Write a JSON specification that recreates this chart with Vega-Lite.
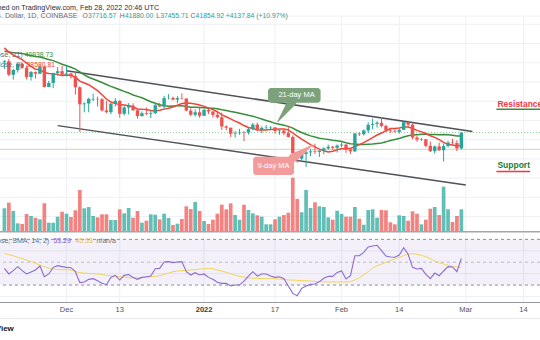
{
  "$schema": "https://vega.github.io/schema/vega-lite/v6.json",
  "width": 540,
  "height": 340,
  "autosize": {"type": "fit", "contains": "padding"},
  "padding": 0,
  "background": "#ffffff",
  "config": {"view": {"stroke": null}, "text": {"font": "Liberation Sans"}},
  "datasets": {
    "daily": [
      {"date":"2021-11-17","open":60100,"high":60700,"low":58400,"close":60360,"volume":23400,"ma9":63868,"ma21":62993,"rsi":44.6,"rsi_ma":57.8},
      {"date":"2021-11-18","open":60360,"high":60980,"low":56500,"close":56900,"volume":29000,"ma9":62751,"ma21":62817,"rsi":39.7,"rsi_ma":56.6},
      {"date":"2021-11-19","open":56900,"high":58370,"low":55600,"close":58100,"volume":20700,"ma9":61996,"ma21":62620,"rsi":42.6,"rsi_ma":55.7},
      {"date":"2021-11-20","open":58100,"high":59860,"low":57450,"close":59720,"volume":8400,"ma9":61426,"ma21":62516,"rsi":46.1,"rsi_ma":54.3},
      {"date":"2021-11-21","open":59720,"high":60050,"low":58500,"close":58700,"volume":7700,"ma9":60820,"ma21":62392,"rsi":42.6,"rsi_ma":53.1},
      {"date":"2021-11-22","open":58700,"high":59300,"low":55650,"close":56280,"volume":17700,"ma9":59918,"ma21":62167,"rsi":39.7,"rsi_ma":51.9},
      {"date":"2021-11-23","open":56280,"high":57870,"low":55360,"close":57560,"volume":15700,"ma9":59036,"ma21":61896,"rsi":41.4,"rsi_ma":50.5},
      {"date":"2021-11-24","open":57560,"high":57750,"low":55850,"close":57150,"volume":14000,"ma9":58319,"ma21":61620,"rsi":43.2,"rsi_ma":49.0},
      {"date":"2021-11-25","open":57150,"high":59450,"low":57050,"close":58950,"volume":12400,"ma9":58191,"ma21":61501,"rsi":46.7,"rsi_ma":47.5},
      {"date":"2021-11-26","open":58950,"high":59200,"low":53570,"close":53700,"volume":28400,"ma9":57451,"ma21":61153,"rsi":37.3,"rsi_ma":46.1},
      {"date":"2021-11-27","open":53700,"high":55300,"low":53650,"close":54750,"volume":9000,"ma9":57212,"ma21":60832,"rsi":39.7,"rsi_ma":44.9},
      {"date":"2021-11-28","open":54750,"high":57450,"low":53400,"close":57290,"volume":9000,"ma9":57122,"ma21":60546,"rsi":45.5,"rsi_ma":44.0},
      {"date":"2021-11-29","open":57290,"high":58880,"low":56700,"close":57800,"volume":15000,"ma9":56909,"ma21":60081,"rsi":47.0,"rsi_ma":43.7},
      {"date":"2021-11-30","open":57800,"high":59200,"low":56500,"close":56960,"volume":20000,"ma9":56716,"ma21":59606,"rsi":46.1,"rsi_ma":43.4},
      {"date":"2021-12-01","open":56960,"high":59100,"low":56450,"close":57200,"volume":18000,"ma9":56818,"ma21":59239,"rsi":45.5,"rsi_ma":43.4},
      {"date":"2021-12-02","open":57200,"high":57400,"low":55850,"close":56500,"volume":14700,"ma9":56700,"ma21":58841,"rsi":45.2,"rsi_ma":43.2},
      {"date":"2021-12-03","open":56500,"high":57600,"low":51700,"close":53620,"volume":21400,"ma9":56308,"ma21":58340,"rsi":41.7,"rsi_ma":42.0},
      {"date":"2021-12-04","open":53620,"high":53860,"low":42000,"close":49200,"volume":41700,"ma9":55224,"ma21":57616,"rsi":32.1,"rsi_ma":40.8},
      {"date":"2021-12-05","open":49200,"high":49700,"low":47100,"close":49400,"volume":23400,"ma9":54747,"ma21":56850,"rsi":32.7,"rsi_ma":40.5},
      {"date":"2021-12-06","open":49400,"high":50900,"low":47100,"close":50600,"volume":24700,"ma9":54286,"ma21":56230,"rsi":35.0,"rsi_ma":40.2},
      {"date":"2021-12-07","open":50450,"high":51950,"low":50000,"close":50600,"volume":15700,"ma9":53542,"ma21":55778,"rsi":35.6,"rsi_ma":39.9},
      {"date":"2021-12-08","open":50600,"high":51200,"low":48600,"close":50500,"volume":14400,"ma9":52731,"ma21":55309,"rsi":33.8,"rsi_ma":39.7},
      {"date":"2021-12-09","open":50500,"high":50800,"low":47300,"close":47600,"volume":17400,"ma9":51691,"ma21":54866,"rsi":31.5,"rsi_ma":39.1},
      {"date":"2021-12-10","open":47600,"high":50100,"low":46900,"close":47150,"volume":17400,"ma9":50574,"ma21":54344,"rsi":30.3,"rsi_ma":38.5},
      {"date":"2021-12-11","open":47150,"high":49500,"low":46650,"close":49350,"volume":11700,"ma9":49780,"ma21":53850,"rsi":36.7,"rsi_ma":38.2},
      {"date":"2021-12-12","open":49350,"high":50800,"low":48600,"close":50100,"volume":11700,"ma9":49389,"ma21":53441,"rsi":38.5,"rsi_ma":37.6},
      {"date":"2021-12-13","open":50100,"high":50200,"low":45700,"close":46720,"volume":22400,"ma9":49113,"ma21":52986,"rsi":34.4,"rsi_ma":37.3},
      {"date":"2021-12-14","open":46720,"high":48700,"low":46300,"close":48380,"volume":18400,"ma9":49000,"ma21":52549,"rsi":38.5,"rsi_ma":37.0},
      {"date":"2021-12-15","open":48380,"high":49500,"low":46550,"close":48870,"volume":23700,"ma9":48808,"ma21":52154,"rsi":39.1,"rsi_ma":36.4},
      {"date":"2021-12-16","open":48870,"high":49450,"low":47500,"close":47640,"volume":14000,"ma9":48479,"ma21":51616,"rsi":36.7,"rsi_ma":36.4},
      {"date":"2021-12-17","open":47640,"high":48000,"low":45500,"close":46150,"volume":20700,"ma9":47996,"ma21":51256,"rsi":35.0,"rsi_ma":36.4},
      {"date":"2021-12-18","open":46150,"high":47350,"low":45950,"close":46860,"volume":9000,"ma9":47913,"ma21":50880,"rsi":36.7,"rsi_ma":36.4},
      {"date":"2021-12-19","open":46860,"high":48350,"low":46400,"close":46700,"volume":11000,"ma9":47863,"ma21":50376,"rsi":37.3,"rsi_ma":36.7},
      {"date":"2021-12-20","open":46700,"high":47550,"low":45600,"close":46900,"volume":17400,"ma9":47591,"ma21":49857,"rsi":37.9,"rsi_ma":37.3},
      {"date":"2021-12-21","open":46900,"high":49350,"low":46650,"close":48950,"volume":17000,"ma9":47463,"ma21":49476,"rsi":44.3,"rsi_ma":37.6},
      {"date":"2021-12-22","open":48950,"high":49600,"low":48450,"close":48620,"volume":12400,"ma9":47674,"ma21":49067,"rsi":44.6,"rsi_ma":38.2},
      {"date":"2021-12-23","open":48620,"high":51400,"low":48050,"close":50800,"volume":18000,"ma9":47943,"ma21":48796,"rsi":50.2,"rsi_ma":39.4},
      {"date":"2021-12-24","open":50800,"high":51850,"low":50450,"close":50850,"volume":13700,"ma9":48163,"ma21":48664,"rsi":50.5,"rsi_ma":40.5},
      {"date":"2021-12-25","open":50850,"high":51200,"low":50200,"close":50420,"volume":6700,"ma9":48472,"ma21":48722,"rsi":49.6,"rsi_ma":41.7},
      {"date":"2021-12-26","open":50420,"high":51300,"low":49450,"close":50800,"volume":8000,"ma9":48989,"ma21":48789,"rsi":50.2,"rsi_ma":42.3},
      {"date":"2021-12-27","open":50800,"high":52050,"low":50450,"close":50700,"volume":12700,"ma9":49416,"ma21":48793,"rsi":50.5,"rsi_ma":42.6},
      {"date":"2021-12-28","open":50700,"high":50700,"low":47350,"close":47550,"volume":25400,"ma9":49510,"ma21":48648,"rsi":41.7,"rsi_ma":42.9},
      {"date":"2021-12-29","open":47550,"high":48150,"low":46100,"close":46480,"volume":22700,"ma9":49463,"ma21":48457,"rsi":38.8,"rsi_ma":43.2},
      {"date":"2021-12-30","open":46480,"high":47900,"low":46000,"close":47130,"volume":29700,"ma9":49261,"ma21":48434,"rsi":40.8,"rsi_ma":43.4},
      {"date":"2021-12-31","open":47130,"high":48550,"low":45700,"close":46200,"volume":20700,"ma9":48992,"ma21":48389,"rsi":38.8,"rsi_ma":44.0},
      {"date":"2022-01-01","open":46200,"high":47950,"low":46200,"close":47740,"volume":10700,"ma9":48652,"ma21":48312,"rsi":39.7,"rsi_ma":44.3},
      {"date":"2022-01-02","open":47740,"high":47990,"low":46650,"close":47300,"volume":7700,"ma9":48258,"ma21":48179,"rsi":36.7,"rsi_ma":44.6},
      {"date":"2022-01-03","open":47300,"high":47550,"low":45700,"close":46440,"volume":12000,"ma9":47816,"ma21":48166,"rsi":35.0,"rsi_ma":44.3},
      {"date":"2022-01-04","open":46440,"high":47500,"low":45500,"close":45830,"volume":18000,"ma9":47263,"ma21":48044,"rsi":32.4,"rsi_ma":43.2},
      {"date":"2022-01-05","open":45830,"high":47050,"low":42500,"close":43430,"volume":27000,"ma9":46456,"ma21":47785,"rsi":31.5,"rsi_ma":42.3},
      {"date":"2022-01-06","open":43430,"high":43750,"low":42450,"close":43100,"volume":22400,"ma9":45961,"ma21":47569,"rsi":31.5,"rsi_ma":41.1},
      {"date":"2022-01-07","open":43100,"high":43150,"low":40700,"close":41550,"volume":28400,"ma9":45413,"ma21":47350,"rsi":29.2,"rsi_ma":39.9},
      {"date":"2022-01-08","open":41550,"high":42300,"low":40500,"close":41680,"volume":16700,"ma9":44808,"ma21":47103,"rsi":30.0,"rsi_ma":38.8},
      {"date":"2022-01-09","open":41680,"high":42800,"low":41250,"close":41860,"volume":12000,"ma9":44326,"ma21":46873,"rsi":30.0,"rsi_ma":37.6},
      {"date":"2022-01-10","open":41900,"high":42250,"low":39650,"close":41820,"volume":27000,"ma9":43668,"ma21":46631,"rsi":33.5,"rsi_ma":37.0},
      {"date":"2022-01-11","open":41820,"high":43100,"low":41300,"close":42730,"volume":21700,"ma9":43160,"ma21":46335,"rsi":37.9,"rsi_ma":36.4},
      {"date":"2022-01-12","open":42730,"high":44350,"low":42450,"close":43920,"volume":18400,"ma9":42880,"ma21":46111,"rsi":41.7,"rsi_ma":35.9},
      {"date":"2022-01-13","open":43920,"high":44450,"low":42300,"close":42590,"volume":16400,"ma9":42520,"ma21":45720,"rsi":37.9,"rsi_ma":35.9},
      {"date":"2022-01-14","open":42590,"high":43450,"low":41750,"close":43080,"volume":15000,"ma9":42481,"ma21":45350,"rsi":39.7,"rsi_ma":35.6},
      {"date":"2022-01-15","open":43080,"high":43800,"low":42600,"close":43180,"volume":7400,"ma9":42490,"ma21":45005,"rsi":39.7,"rsi_ma":35.6},
      {"date":"2022-01-16","open":43100,"high":43500,"low":42600,"close":43200,"volume":7400,"ma9":42673,"ma21":44643,"rsi":37.9,"rsi_ma":35.9},
      {"date":"2022-01-17","open":43200,"high":43200,"low":41550,"close":42250,"volume":12400,"ma9":42737,"ma21":44241,"rsi":36.7,"rsi_ma":35.6},
      {"date":"2022-01-18","open":42250,"high":42700,"low":41250,"close":42380,"volume":15000,"ma9":42794,"ma21":43995,"rsi":37.3,"rsi_ma":35.3},
      {"date":"2022-01-19","open":42380,"high":42580,"low":41150,"close":41700,"volume":16700,"ma9":42781,"ma21":43767,"rsi":35.6,"rsi_ma":35.0},
      {"date":"2022-01-20","open":41700,"high":43500,"low":40550,"close":40700,"volume":19000,"ma9":42556,"ma21":43461,"rsi":29.2,"rsi_ma":34.4},
      {"date":"2022-01-21","open":40700,"high":41100,"low":35500,"close":36470,"volume":54000,"ma9":41728,"ma21":42998,"rsi":22.7,"rsi_ma":34.4},
      {"date":"2022-01-22","open":36470,"high":36850,"low":34020,"close":35070,"volume":32700,"ma9":40892,"ma21":42394,"rsi":20.7,"rsi_ma":34.1},
      {"date":"2022-01-23","open":35070,"high":36550,"low":34650,"close":36280,"volume":19400,"ma9":40137,"ma21":41870,"rsi":27.1,"rsi_ma":33.8},
      {"date":"2022-01-24","open":36280,"high":37550,"low":32920,"close":36700,"volume":41700,"ma9":39417,"ma21":41406,"rsi":29.2,"rsi_ma":33.8},
      {"date":"2022-01-25","open":36700,"high":37550,"low":35700,"close":36960,"volume":23700,"ma9":38723,"ma21":40983,"rsi":30.6,"rsi_ma":33.5},
      {"date":"2022-01-26","open":36960,"high":38950,"low":36250,"close":36820,"volume":29400,"ma9":38120,"ma21":40669,"rsi":30.9,"rsi_ma":33.2},
      {"date":"2022-01-27","open":36820,"high":37230,"low":35500,"close":37170,"volume":25400,"ma9":37541,"ma21":40386,"rsi":33.0,"rsi_ma":32.9},
      {"date":"2022-01-28","open":37170,"high":38050,"low":36200,"close":37720,"volume":24700,"ma9":37099,"ma21":40204,"rsi":35.9,"rsi_ma":32.9},
      {"date":"2022-01-29","open":37720,"high":38700,"low":37350,"close":38160,"volume":14400,"ma9":36817,"ma21":40036,"rsi":37.6,"rsi_ma":32.7},
      {"date":"2022-01-30","open":38160,"high":38370,"low":37350,"close":37900,"volume":12000,"ma9":36976,"ma21":39848,"rsi":37.6,"rsi_ma":32.7},
      {"date":"2022-01-31","open":37900,"high":38750,"low":36650,"close":38490,"volume":21000,"ma9":37356,"ma21":39689,"rsi":41.1,"rsi_ma":32.7},
      {"date":"2022-02-01","open":38490,"high":39250,"low":38000,"close":38720,"volume":17700,"ma9":37627,"ma21":39498,"rsi":42.3,"rsi_ma":32.7},
      {"date":"2022-02-02","open":38720,"high":38850,"low":36600,"close":37400,"volume":15000,"ma9":37704,"ma21":39188,"rsi":35.3,"rsi_ma":32.7},
      {"date":"2022-02-03","open":37400,"high":37500,"low":36250,"close":36950,"volume":15000,"ma9":37703,"ma21":38919,"rsi":38.2,"rsi_ma":32.9},
      {"date":"2022-02-04","open":36950,"high":41750,"low":36850,"close":41600,"volume":24700,"ma9":38234,"ma21":38849,"rsi":55.7,"rsi_ma":34.4},
      {"date":"2022-02-05","open":41600,"high":41950,"low":40950,"close":41400,"volume":13000,"ma9":38704,"ma21":38764,"rsi":55.7,"rsi_ma":36.4},
      {"date":"2022-02-06","open":41400,"high":42650,"low":41100,"close":42400,"volume":7000,"ma9":39224,"ma21":38726,"rsi":58.6,"rsi_ma":38.8},
      {"date":"2022-02-07","open":42400,"high":44500,"low":41650,"close":43850,"volume":21700,"ma9":39857,"ma21":38802,"rsi":63.3,"rsi_ma":41.7},
      {"date":"2022-02-08","open":43850,"high":45500,"low":42700,"close":44100,"volume":22400,"ma9":40546,"ma21":38884,"rsi":64.2,"rsi_ma":44.9},
      {"date":"2022-02-09","open":44100,"high":44800,"low":43150,"close":44400,"volume":14000,"ma9":41202,"ma21":39012,"rsi":64.8,"rsi_ma":46.9},
      {"date":"2022-02-10","open":44400,"high":45850,"low":43200,"close":43550,"volume":21700,"ma9":41739,"ma21":39148,"rsi":60.1,"rsi_ma":48.4},
      {"date":"2022-02-11","open":43550,"high":43900,"low":42000,"close":42400,"volume":21400,"ma9":42294,"ma21":39430,"rsi":55.4,"rsi_ma":49.9},
      {"date":"2022-02-12","open":42400,"high":43000,"low":41750,"close":42200,"volume":9400,"ma9":42878,"ma21":39770,"rsi":54.5,"rsi_ma":51.3},
      {"date":"2022-02-13","open":42200,"high":42750,"low":41850,"close":42050,"volume":7400,"ma9":42928,"ma21":40045,"rsi":54.3,"rsi_ma":52.8},
      {"date":"2022-02-14","open":42050,"high":42850,"low":41550,"close":42550,"volume":16400,"ma9":43056,"ma21":40323,"rsi":56.3,"rsi_ma":54.3},
      {"date":"2022-02-15","open":42550,"high":44750,"low":42450,"close":44550,"volume":15700,"ma9":43294,"ma21":40685,"rsi":62.7,"rsi_ma":55.7},
      {"date":"2022-02-16","open":44550,"high":44550,"low":43350,"close":43900,"volume":11000,"ma9":43300,"ma21":41022,"rsi":56.9,"rsi_ma":57.2},
      {"date":"2022-02-17","open":43900,"high":44200,"low":40100,"close":40550,"volume":20400,"ma9":42906,"ma21":41183,"rsi":45.5,"rsi_ma":57.5},
      {"date":"2022-02-18","open":40550,"high":40950,"low":39450,"close":40000,"volume":18000,"ma9":42417,"ma21":41291,"rsi":44.0,"rsi_ma":56.9},
      {"date":"2022-02-19","open":40000,"high":40450,"low":39650,"close":40100,"volume":7400,"ma9":42033,"ma21":41384,"rsi":44.6,"rsi_ma":56.0},
      {"date":"2022-02-20","open":40100,"high":40150,"low":38000,"close":38400,"volume":12000,"ma9":41589,"ma21":41408,"rsi":39.4,"rsi_ma":54.8},
      {"date":"2022-02-21","open":38400,"high":39500,"low":36800,"close":37000,"volume":23000,"ma9":41011,"ma21":41337,"rsi":35.6,"rsi_ma":53.1},
      {"date":"2022-02-22","open":37000,"high":38450,"low":36350,"close":38250,"volume":24700,"ma9":40589,"ma21":41314,"rsi":40.5,"rsi_ma":51.0},
      {"date":"2022-02-23","open":38250,"high":39250,"low":37050,"close":37250,"volume":16700,"ma9":40000,"ma21":41307,"rsi":38.2,"rsi_ma":49.6},
      {"date":"2022-02-24","open":37250,"high":39000,"low":34300,"close":38330,"volume":45000,"ma9":39309,"ma21":41373,"rsi":42.3,"rsi_ma":48.4},
      {"date":"2022-02-25","open":38330,"high":39700,"low":38000,"close":39230,"volume":22400,"ma9":38790,"ma21":41260,"rsi":46.1,"rsi_ma":47.3},
      {"date":"2022-02-26","open":39230,"high":40250,"low":38600,"close":39120,"volume":9700,"ma9":38631,"ma21":41151,"rsi":45.8,"rsi_ma":46.4},
      {"date":"2022-02-27","open":39120,"high":39850,"low":37000,"close":37716.57,"volume":15700,"ma9":38377,"ma21":40928,"rsi":41.7,"rsi_ma":45.8},
      {"date":"2022-02-28","open":37716.57,"high":41880,"low":37455.71,"close":41854.92,"volume":22400,"ma9":38580.81,"ma21":40938.73,"rsi":53.29,"rsi_ma":45.53}
    ],
    "ticks": [
      {"date":"2021-12-01","label":"Dec","year_start":false},
      {"date":"2021-12-13","label":"13","year_start":false},
      {"date":"2022-01-01","label":"2022","year_start":true},
      {"date":"2022-01-17","label":"17","year_start":false},
      {"date":"2022-02-01","label":"Feb","year_start":false},
      {"date":"2022-02-14","label":"14","year_start":false},
      {"date":"2022-03-01","label":"Mar","year_start":false},
      {"date":"2022-03-14","label":"14","year_start":false}
    ],
    "price_grid": [
      {"price":20000},{"price":25000},{"price":30000},{"price":35000},{"price":40000},{"price":45000},
      {"price":50000},{"price":55000},{"price":60000},{"price":65000},{"price":70000},{"price":72150}
    ],
    "rsi_grid": [{"rsi":60},{"rsi":40},{"rsi":20}],
    "rsi_levels": [{"rsi":70},{"rsi":50},{"rsi":30}],
    "rsi_band": [{"start":"2021-11-10","end":"2022-03-25","upper":70,"lower":30}],
    "channel": [
      {"line":"upper","date":"2021-12-01","price":57900},
      {"line":"upper","date":"2022-03-02T12:00Z","price":42100},
      {"line":"lower","date":"2021-11-29","price":43650},
      {"line":"lower","date":"2022-03-01","price":28240}
    ],
    "callouts": [
      {"series":"ma21","label":"21-day MA","start":"2022-01-15T10:05Z","end":"2022-01-27T06:29Z","mid":"2022-01-21T20:24Z","top":53430,"bottom":49610,"level":51534},
      {"series":"ma9","label":"9-day MA","start":"2022-01-12T01:41Z","end":"2022-01-21T06:58Z","mid":"2022-01-16T15:36Z","top":35570,"bottom":30810,"level":33203}
    ],
    "tails": [
      {"series":"ma21","end":"base","date":"2022-01-20T20:24Z","price":49900},
      {"series":"ma21","end":"tip","date":"2022-01-17T14:24Z","price":44670},
      {"series":"ma9","end":"base","date":"2022-01-21T01:41Z","price":35300},
      {"series":"ma9","end":"tip","date":"2022-01-25T12:00Z","price":38612}
    ],
    "zones": [
      {"kind":"resistance","label":"Resistance","date":"2022-03-08T03:07Z","price":49350,"start":"2022-03-07T21:36Z","end":"2022-03-20","line":47894},
      {"kind":"support","label":"Support","date":"2022-03-08T03:07Z","price":33411,"start":"2022-03-07T21:36Z","end":"2022-03-15T12:00Z","line":31721}
    ],
    "price_text_right": [
      {"role":"header","text":"BTCUSD, 1D published on TradingView.com, Feb 28, 2022 20:46 UTC","date":"2021-12-21T20:53Z","price":74233},
      {"role":"muted","text":"Bitcoin / U.S. Dollar, 1D, COINBASE","date":"2021-12-03T12:00Z","price":72153},
      {"role":"muted","text":"MA (close, 21)","date":"2021-11-21T02:53Z","price":62013},
      {"role":"muted","text":"MA (close, 9)","date":"2021-11-21T02:53Z","price":59412}
    ],
    "price_text_left": [
      {"role":"muted","text":"O","date":"2021-12-04T14:38Z","price":72153},
      {"role":"up","text":"37716.57","date":"2021-12-05T19:55Z","price":72153},
      {"role":"muted","text":"H","date":"2021-12-13T00:29Z","price":72153},
      {"role":"up","text":"41880.00","date":"2021-12-14T04:05Z","price":72153},
      {"role":"muted","text":"L","date":"2021-12-21T04:48Z","price":72153},
      {"role":"up","text":"37455.71","date":"2021-12-22T02:38Z","price":72153},
      {"role":"muted","text":"C","date":"2021-12-28T22:48Z","price":72153},
      {"role":"up","text":"41854.92","date":"2021-12-30T02:24Z","price":72153},
      {"role":"up","text":"+4137.84 (+10.97%)","date":"2022-01-05T21:50Z","price":72153},
      {"role":"ma21","text":"40938.73","date":"2021-11-21T13:26Z","price":62013},
      {"role":"ma9","text":"38580.81","date":"2021-11-22T00:00Z","price":59412}
    ],
    "rsi_text_left": [
      {"role":"rsi","text":"53.29","date":"2021-11-28T00:58Z","rsi":68.6},
      {"role":"rsi_ma","text":"45.53","date":"2021-12-03T00:00Z","rsi":68.6},
      {"role":"muted","text":"n/a","date":"2021-12-07T18:29Z","rsi":68.6},
      {"role":"muted","text":"n/a","date":"2021-12-09T22:05Z","rsi":68.6}
    ]
  },
  "resolve": {"scale": {"y": "independent", "color": "independent", "size": "independent", "opacity": "independent"}},
  "layer": [
    {
      "data": {"name": "ticks"},
      "mark": {"type": "rule", "color": "#edf0f5", "strokeWidth": 1, "clip": true},
      "encoding": {
        "x": {"field": "date", "type": "temporal", "scale": {"type": "utc", "nice": false, "domain": [{"year":2021,"month":11,"date":17,"hours":3,"minutes":11,"utc":true},{"year":2022,"month":3,"date":16,"hours":14,"minutes":24,"utc":true}]}, "axis": null},
        "y": {"datum": 14.7, "type": "quantitative", "scale": {"domain": [-18.1, 279.5], "nice": false, "zero": false}, "axis": null},
        "y2": {"datum": 265.5}
      }
    },
    {
      "data": {"name": "price_grid"},
      "mark": {"type": "rule", "color": "#edf0f5", "strokeWidth": 1, "clip": true},
      "encoding": {
        "y": {"field": "price", "type": "quantitative", "scale": {"domain": [-12090, 76313], "nice": false, "zero": false}, "axis": null}
      }
    },
    {
      "data": {"name": "rsi_grid"},
      "mark": {"type": "rule", "color": "#edf0f5", "strokeWidth": 1, "clip": true},
      "encoding": {
        "y": {"field": "rsi", "type": "quantitative", "scale": {"domain": [-18.1, 279.5], "nice": false, "zero": false}, "axis": null}
      }
    },
    {
      "data": {"name": "rsi_band"},
      "mark": {"type": "rect", "color": "#7e57c2", "opacity": 0.09, "clip": true},
      "encoding": {
        "x": {"field": "start", "type": "temporal", "scale": {"type": "utc", "nice": false, "domain": [{"year":2021,"month":11,"date":17,"hours":3,"minutes":11,"utc":true},{"year":2022,"month":3,"date":16,"hours":14,"minutes":24,"utc":true}]}, "axis": null},
        "x2": {"field": "end"},
        "y": {"field": "upper", "type": "quantitative", "scale": {"domain": [-18.1, 279.5], "nice": false, "zero": false}, "axis": null},
        "y2": {"field": "lower"}
      }
    },
    {
      "data": {"name": "rsi_levels"},
      "mark": {"type": "rule", "color": "#8a8d96", "strokeWidth": 1, "strokeDash": [3, 3], "clip": true},
      "encoding": {
        "y": {"field": "rsi", "type": "quantitative", "scale": {"domain": [-18.1, 279.5], "nice": false, "zero": false}, "axis": null},
        "opacity": {"condition": {"test": "datum.rsi == 50", "value": 0.55}, "value": 1}
      }
    },
    {
      "data": {"values": [{"rsi": 14.7}]},
      "mark": {"type": "rule", "color": "#9598a1", "strokeWidth": 1, "clip": true},
      "encoding": {
        "y": {"field": "rsi", "type": "quantitative", "scale": {"domain": [-18.1, 279.5], "nice": false, "zero": false}, "axis": null}
      }
    },
    {
      "data": {"name": "ticks"},
      "transform": [{"filter": "!datum.year_start"}],
      "mark": {"type": "text", "fontSize": 7.5, "color": "#50535e", "align": "center", "baseline": "middle", "clip": true},
      "encoding": {
        "x": {"field": "date", "type": "temporal", "scale": {"type": "utc", "nice": false, "domain": [{"year":2021,"month":11,"date":17,"hours":3,"minutes":11,"utc":true},{"year":2022,"month":3,"date":16,"hours":14,"minutes":24,"utc":true}]}, "axis": null},
        "y": {"datum": 7.9, "type": "quantitative", "scale": {"domain": [-18.1, 279.5], "nice": false, "zero": false}, "axis": null},
        "text": {"field": "label"}
      }
    },
    {
      "data": {"name": "ticks"},
      "transform": [{"filter": "datum.year_start"}],
      "mark": {"type": "text", "fontSize": 7.5, "fontWeight": "bold", "color": "#3a3d47", "align": "center", "baseline": "middle", "clip": true},
      "encoding": {
        "x": {"field": "date", "type": "temporal", "scale": {"type": "utc", "nice": false, "domain": [{"year":2021,"month":11,"date":17,"hours":3,"minutes":11,"utc":true},{"year":2022,"month":3,"date":16,"hours":14,"minutes":24,"utc":true}]}, "axis": null},
        "y": {"datum": 7.9, "type": "quantitative", "scale": {"domain": [-18.1, 279.5], "nice": false, "zero": false}, "axis": null},
        "text": {"field": "label"}
      }
    },
    {
      "data": {"name": "daily"},
      "mark": {"type": "bar", "width": 3.7, "opacity": 0.72, "clip": true},
      "encoding": {
        "x": {"field": "date", "type": "temporal", "scale": {"type": "utc", "nice": false, "domain": [{"year":2021,"month":11,"date":17,"hours":3,"minutes":11,"utc":true},{"year":2022,"month":3,"date":16,"hours":14,"minutes":24,"utc":true}]}, "axis": null},
        "y": {"field": "volume", "type": "quantitative", "scale": {"domain": [-108300, 231700], "nice": false, "zero": false}, "axis": null},
        "y2": {"datum": 0},
        "color": {"condition": {"test": "datum.close >= datum.open", "value": "#26a69a"}, "value": "#ef5350"}
      }
    },
    {
      "data": {"values": [{"volume": 0}]},
      "mark": {"type": "rule", "color": "#a3a6af", "strokeWidth": 1.5, "clip": true},
      "encoding": {
        "y": {"field": "volume", "type": "quantitative", "scale": {"domain": [-108300, 231700], "nice": false, "zero": false}, "axis": null}
      }
    },
    {
      "data": {"values": [{"rsi": 0.7}]},
      "mark": {"type": "rule", "color": "#e6e8ee", "strokeWidth": 1, "clip": true},
      "encoding": {
        "y": {"field": "rsi", "type": "quantitative", "scale": {"domain": [-18.1, 279.5], "nice": false, "zero": false}, "axis": null}
      }
    },
    {
      "data": {"values": [{"price": 37493}]},
      "mark": {"type": "rule", "color": "#c6e5c8", "strokeWidth": 1.2, "clip": true},
      "encoding": {
        "y": {"field": "price", "type": "quantitative", "scale": {"domain": [-12090, 76313], "nice": false, "zero": false}, "axis": null}
      }
    },
    {
      "data": {"values": [{"price": 41854.92}]},
      "mark": {"type": "rule", "color": "#8fd19c", "strokeWidth": 1, "strokeDash": [1, 2], "clip": true},
      "encoding": {
        "y": {"field": "price", "type": "quantitative", "scale": {"domain": [-12090, 76313], "nice": false, "zero": false}, "axis": null}
      }
    },
    {
      "data": {"name": "channel"},
      "mark": {"type": "line", "color": "#505257", "strokeWidth": 1.5, "clip": true},
      "encoding": {
        "x": {"field": "date", "type": "temporal", "scale": {"type": "utc", "nice": false, "domain": [{"year":2021,"month":11,"date":17,"hours":3,"minutes":11,"utc":true},{"year":2022,"month":3,"date":16,"hours":14,"minutes":24,"utc":true}]}, "axis": null},
        "y": {"field": "price", "type": "quantitative", "scale": {"domain": [-12090, 76313], "nice": false, "zero": false}, "axis": null},
        "detail": {"field": "line"}
      }
    },
    {
      "data": {"name": "daily"},
      "mark": {"type": "line", "color": "#388e3c", "strokeWidth": 1.5, "clip": true},
      "encoding": {
        "x": {"field": "date", "type": "temporal", "scale": {"type": "utc", "nice": false, "domain": [{"year":2021,"month":11,"date":17,"hours":3,"minutes":11,"utc":true},{"year":2022,"month":3,"date":16,"hours":14,"minutes":24,"utc":true}]}, "axis": null},
        "y": {"field": "ma21", "type": "quantitative", "scale": {"domain": [-12090, 76313], "nice": false, "zero": false}, "axis": null}
      }
    },
    {
      "data": {"name": "daily"},
      "mark": {"type": "line", "color": "#f44336", "strokeWidth": 1.5, "clip": true},
      "encoding": {
        "x": {"field": "date", "type": "temporal", "scale": {"type": "utc", "nice": false, "domain": [{"year":2021,"month":11,"date":17,"hours":3,"minutes":11,"utc":true},{"year":2022,"month":3,"date":16,"hours":14,"minutes":24,"utc":true}]}, "axis": null},
        "y": {"field": "ma9", "type": "quantitative", "scale": {"domain": [-12090, 76313], "nice": false, "zero": false}, "axis": null}
      }
    },
    {
      "data": {"name": "daily"},
      "mark": {"type": "rule", "strokeWidth": 1, "clip": true},
      "encoding": {
        "x": {"field": "date", "type": "temporal", "scale": {"type": "utc", "nice": false, "domain": [{"year":2021,"month":11,"date":17,"hours":3,"minutes":11,"utc":true},{"year":2022,"month":3,"date":16,"hours":14,"minutes":24,"utc":true}]}, "axis": null},
        "y": {"field": "low", "type": "quantitative", "scale": {"domain": [-12090, 76313], "nice": false, "zero": false}, "axis": null},
        "y2": {"field": "high"},
        "color": {"condition": {"test": "datum.close >= datum.open", "value": "#26a69a"}, "value": "#ef5350"}
      }
    },
    {
      "data": {"name": "daily"},
      "mark": {"type": "bar", "width": 3.4, "clip": true},
      "encoding": {
        "x": {"field": "date", "type": "temporal", "scale": {"type": "utc", "nice": false, "domain": [{"year":2021,"month":11,"date":17,"hours":3,"minutes":11,"utc":true},{"year":2022,"month":3,"date":16,"hours":14,"minutes":24,"utc":true}]}, "axis": null},
        "y": {"field": "open", "type": "quantitative", "scale": {"domain": [-12090, 76313], "nice": false, "zero": false}, "axis": null},
        "y2": {"field": "close"},
        "color": {"condition": {"test": "datum.close >= datum.open", "value": "#26a69a"}, "value": "#ef5350"}
      }
    },
    {
      "data": {"name": "daily"},
      "mark": {"type": "line", "color": "#f2d65a", "strokeWidth": 1, "clip": true},
      "encoding": {
        "x": {"field": "date", "type": "temporal", "scale": {"type": "utc", "nice": false, "domain": [{"year":2021,"month":11,"date":17,"hours":3,"minutes":11,"utc":true},{"year":2022,"month":3,"date":16,"hours":14,"minutes":24,"utc":true}]}, "axis": null},
        "y": {"field": "rsi_ma", "type": "quantitative", "scale": {"domain": [-18.1, 279.5], "nice": false, "zero": false}, "axis": null}
      }
    },
    {
      "data": {"name": "daily"},
      "mark": {"type": "line", "color": "#8c6bd1", "strokeWidth": 1.1, "clip": true},
      "encoding": {
        "x": {"field": "date", "type": "temporal", "scale": {"type": "utc", "nice": false, "domain": [{"year":2021,"month":11,"date":17,"hours":3,"minutes":11,"utc":true},{"year":2022,"month":3,"date":16,"hours":14,"minutes":24,"utc":true}]}, "axis": null},
        "y": {"field": "rsi", "type": "quantitative", "scale": {"domain": [-18.1, 279.5], "nice": false, "zero": false}, "axis": null}
      }
    },
    {
      "data": {"name": "tails"},
      "mark": {"type": "trail", "clip": true},
      "encoding": {
        "x": {"field": "date", "type": "temporal", "scale": {"type": "utc", "nice": false, "domain": [{"year":2021,"month":11,"date":17,"hours":3,"minutes":11,"utc":true},{"year":2022,"month":3,"date":16,"hours":14,"minutes":24,"utc":true}]}, "axis": null},
        "y": {"field": "price", "type": "quantitative", "scale": {"domain": [-12090, 76313], "nice": false, "zero": false}, "axis": null},
        "detail": {"field": "series"},
        "size": {"field": "end", "type": "ordinal", "scale": {"domain": ["base", "tip"], "range": [9, 0.8]}, "legend": null},
        "color": {"field": "series", "type": "nominal", "scale": {"domain": ["ma21", "ma9"], "range": ["#7ca27c", "#f39a9a"]}, "legend": null}
      }
    },
    {
      "data": {"name": "callouts"},
      "mark": {"type": "rect", "cornerRadius": 3, "clip": true},
      "encoding": {
        "x": {"field": "start", "type": "temporal", "scale": {"type": "utc", "nice": false, "domain": [{"year":2021,"month":11,"date":17,"hours":3,"minutes":11,"utc":true},{"year":2022,"month":3,"date":16,"hours":14,"minutes":24,"utc":true}]}, "axis": null},
        "x2": {"field": "end"},
        "y": {"field": "top", "type": "quantitative", "scale": {"domain": [-12090, 76313], "nice": false, "zero": false}, "axis": null},
        "y2": {"field": "bottom"},
        "color": {"field": "series", "type": "nominal", "scale": {"domain": ["ma21", "ma9"], "range": ["#7ca27c", "#f39a9a"]}, "legend": null}
      }
    },
    {
      "data": {"name": "callouts"},
      "mark": {"type": "text", "color": "#ffffff", "fontSize": 7.5, "align": "center", "baseline": "middle", "clip": true},
      "encoding": {
        "x": {"field": "mid", "type": "temporal", "scale": {"type": "utc", "nice": false, "domain": [{"year":2021,"month":11,"date":17,"hours":3,"minutes":11,"utc":true},{"year":2022,"month":3,"date":16,"hours":14,"minutes":24,"utc":true}]}, "axis": null},
        "y": {"field": "level", "type": "quantitative", "scale": {"domain": [-12090, 76313], "nice": false, "zero": false}, "axis": null},
        "text": {"field": "label"}
      }
    },
    {
      "data": {"name": "zones"},
      "mark": {"type": "rule", "strokeWidth": 1.5, "clip": true},
      "encoding": {
        "x": {"field": "start", "type": "temporal", "scale": {"type": "utc", "nice": false, "domain": [{"year":2021,"month":11,"date":17,"hours":3,"minutes":11,"utc":true},{"year":2022,"month":3,"date":16,"hours":14,"minutes":24,"utc":true}]}, "axis": null},
        "x2": {"field": "end"},
        "y": {"field": "line", "type": "quantitative", "scale": {"domain": [-12090, 76313], "nice": false, "zero": false}, "axis": null},
        "color": {"field": "kind", "type": "nominal", "scale": {"domain": ["resistance", "support"], "range": ["#388e3c", "#f23645"]}, "legend": null}
      }
    },
    {
      "data": {"name": "zones"},
      "mark": {"type": "text", "fontSize": 8.5, "fontWeight": "bold", "align": "left", "baseline": "middle", "clip": true},
      "encoding": {
        "x": {"field": "date", "type": "temporal", "scale": {"type": "utc", "nice": false, "domain": [{"year":2021,"month":11,"date":17,"hours":3,"minutes":11,"utc":true},{"year":2022,"month":3,"date":16,"hours":14,"minutes":24,"utc":true}]}, "axis": null},
        "y": {"field": "price", "type": "quantitative", "scale": {"domain": [-12090, 76313], "nice": false, "zero": false}, "axis": null},
        "text": {"field": "label"},
        "color": {"field": "kind", "type": "nominal", "scale": {"domain": ["resistance", "support"], "range": ["#f23645", "#1e7b34"]}, "legend": null}
      }
    },
    {
      "data": {"name": "price_text_right"},
      "mark": {"type": "text", "fontSize": 7.2, "align": "right", "baseline": "middle", "clip": true},
      "encoding": {
        "x": {"field": "date", "type": "temporal", "scale": {"type": "utc", "nice": false, "domain": [{"year":2021,"month":11,"date":17,"hours":3,"minutes":11,"utc":true},{"year":2022,"month":3,"date":16,"hours":14,"minutes":24,"utc":true}]}, "axis": null},
        "y": {"field": "price", "type": "quantitative", "scale": {"domain": [-12090, 76313], "nice": false, "zero": false}, "axis": null},
        "text": {"field": "text"},
        "color": {"field": "role", "type": "nominal", "scale": {"domain": ["header", "muted"], "range": ["#2a2e39", "#6a6d78"]}, "legend": null}
      }
    },
    {
      "data": {"name": "price_text_left"},
      "mark": {"type": "text", "fontSize": 6.8, "align": "left", "baseline": "middle", "clip": true},
      "encoding": {
        "x": {"field": "date", "type": "temporal", "scale": {"type": "utc", "nice": false, "domain": [{"year":2021,"month":11,"date":17,"hours":3,"minutes":11,"utc":true},{"year":2022,"month":3,"date":16,"hours":14,"minutes":24,"utc":true}]}, "axis": null},
        "y": {"field": "price", "type": "quantitative", "scale": {"domain": [-12090, 76313], "nice": false, "zero": false}, "axis": null},
        "text": {"field": "text"},
        "color": {"field": "role", "type": "nominal", "scale": {"domain": ["muted", "up", "ma21", "ma9"], "range": ["#6a6d78", "#26a69a", "#388e3c", "#f44336"]}, "legend": null}
      }
    },
    {
      "data": {"values": [{"text": "RSI (14, close, SMA, 14, 2)", "date": "2021-11-27T02:10Z", "rsi": 68.6}]},
      "mark": {"type": "text", "fontSize": 7, "align": "right", "baseline": "middle", "color": "#6a6d78", "clip": true},
      "encoding": {
        "x": {"field": "date", "type": "temporal", "scale": {"type": "utc", "nice": false, "domain": [{"year":2021,"month":11,"date":17,"hours":3,"minutes":11,"utc":true},{"year":2022,"month":3,"date":16,"hours":14,"minutes":24,"utc":true}]}, "axis": null},
        "y": {"field": "rsi", "type": "quantitative", "scale": {"domain": [-18.1, 279.5], "nice": false, "zero": false}, "axis": null},
        "text": {"field": "text"}
      }
    },
    {
      "data": {"name": "rsi_text_left"},
      "mark": {"type": "text", "fontSize": 7, "align": "left", "baseline": "middle", "clip": true},
      "encoding": {
        "x": {"field": "date", "type": "temporal", "scale": {"type": "utc", "nice": false, "domain": [{"year":2021,"month":11,"date":17,"hours":3,"minutes":11,"utc":true},{"year":2022,"month":3,"date":16,"hours":14,"minutes":24,"utc":true}]}, "axis": null},
        "y": {"field": "rsi", "type": "quantitative", "scale": {"domain": [-18.1, 279.5], "nice": false, "zero": false}, "axis": null},
        "text": {"field": "text"},
        "color": {"field": "role", "type": "nominal", "scale": {"domain": ["rsi", "rsi_ma", "muted"], "range": ["#7e57c2", "#e3c23a", "#6a6d78"]}, "legend": null}
      }
    },
    {
      "data": {"values": [{"text": "TradingView", "date": "2021-11-19T02:53Z", "rsi": -8.5}]},
      "mark": {"type": "text", "fontSize": 8, "fontWeight": "bold", "align": "right", "baseline": "middle", "color": "#131722", "clip": true},
      "encoding": {
        "x": {"field": "date", "type": "temporal", "scale": {"type": "utc", "nice": false, "domain": [{"year":2021,"month":11,"date":17,"hours":3,"minutes":11,"utc":true},{"year":2022,"month":3,"date":16,"hours":14,"minutes":24,"utc":true}]}, "axis": null},
        "y": {"field": "rsi", "type": "quantitative", "scale": {"domain": [-18.1, 279.5], "nice": false, "zero": false}, "axis": null},
        "text": {"field": "text"}
      }
    }
  ]
}
